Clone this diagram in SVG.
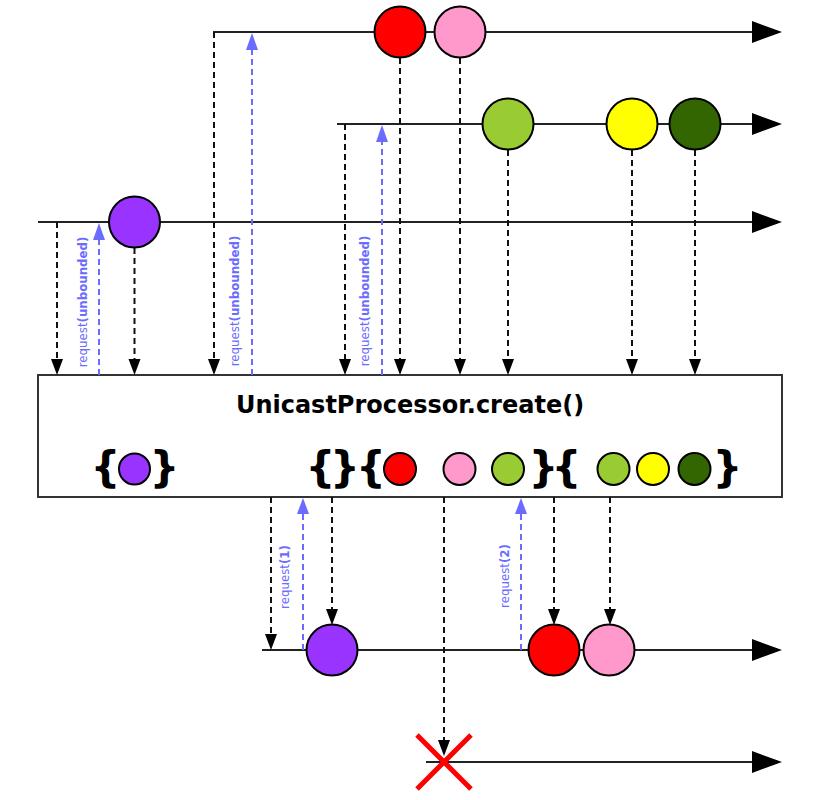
<svg xmlns="http://www.w3.org/2000/svg" width="815" height="800" viewBox="0 0 815 800">
<style>
.tl{stroke:#222;stroke-width:2;fill:none}
.ah{fill:#000}
.ab{fill:#6b6bff}
.m{stroke:#000;stroke-width:2}
.dk{stroke:#111;stroke-width:2;stroke-dasharray:6,4;fill:none}
.bl{stroke:#6b6bff;stroke-width:2;stroke-dasharray:6,4;fill:none}
.lbl{font-family:"DejaVu Sans",Verdana,sans-serif;font-size:11.8px;fill:#6b6bff;text-anchor:middle}
.b{font-weight:bold}
.br{font-family:"DejaVu Sans","Liberation Sans",sans-serif;font-weight:bold;font-size:42px;fill:#000;text-anchor:middle}
.title{font-family:"DejaVu Sans","Liberation Sans",sans-serif;font-weight:bold;font-size:24px;fill:#000;text-anchor:middle}
</style>

<g id="timeline-1">
<line class="tl" x1="213" y1="32" x2="755" y2="32"/>
<polygon class="ah" points="752,21 782,32 752,43"/>
</g>
<g id="timeline-2">
<line class="tl" x1="337" y1="124" x2="755" y2="124"/>
<polygon class="ah" points="752,113 782,124 752,135"/>
</g>
<g id="timeline-3">
<line class="tl" x1="38" y1="222" x2="755" y2="222"/>
<polygon class="ah" points="752,211 782,222 752,233"/>
</g>
<g id="timeline-out">
<line class="tl" x1="262" y1="650" x2="755" y2="650"/>
<polygon class="ah" points="752,639 782,650 752,661"/>
</g>
<g id="timeline-final">
<line class="tl" x1="426" y1="762" x2="755" y2="762"/>
<polygon class="ah" points="752,751 782,762 752,773"/>
</g>

<g id="processor">
<rect x="38" y="375" width="744" height="122" fill="#fff" stroke="#333" stroke-width="2"/>
<text class="title" x="410" y="413">UnicastProcessor.create()</text>
<text class="br" x="105.5" y="482">{</text>
<circle cx="134.5" cy="469" r="15.5" fill="#9933ff" class="m"/>
<text class="br" x="164.5" y="482">}</text>
<text class="br" x="320.5 345 371" y="482">{}{</text>
<circle cx="400" cy="469" r="16" fill="#ff0000" class="m"/>
<circle cx="459.5" cy="469" r="16" fill="#ff99cc" class="m"/>
<circle cx="508" cy="469" r="16" fill="#99cc33" class="m"/>
<text class="br" x="543.5 566.5" y="482">}{</text>
<circle cx="613.5" cy="469" r="16" fill="#99cc33" class="m"/>
<circle cx="653" cy="469" r="16" fill="#ffff00" class="m"/>
<circle cx="694.5" cy="469" r="16" fill="#336600" class="m"/>
<text class="br" x="727.5" y="482">}</text>
</g>

<g id="connectors">
<line class="dk" x1="57" y1="222" x2="57" y2="362"/>
<polygon class="ah" points="51,359 63,359 57,375"/>
<line class="bl" x1="99" y1="375" x2="99" y2="238"/>
<polygon class="ab" points="93,240 105,240 99,223"/>
<line class="dk" x1="134.5" y1="248" x2="134.5" y2="362"/>
<polygon class="ah" points="128.5,359 140.5,359 134.5,375"/>
<line class="dk" x1="214" y1="32" x2="214" y2="362"/>
<polygon class="ah" points="208,359 220,359 214,375"/>
<line class="bl" x1="252" y1="375" x2="252" y2="48"/>
<polygon class="ab" points="246,50 258,50 252,33"/>
<line class="dk" x1="345" y1="124" x2="345" y2="362"/>
<polygon class="ah" points="339,359 351,359 345,375"/>
<line class="bl" x1="382" y1="375" x2="382" y2="140"/>
<polygon class="ab" points="376,142 388,142 382,125"/>
<line class="dk" x1="400" y1="58" x2="400" y2="362"/>
<polygon class="ah" points="394,359 406,359 400,375"/>
<line class="dk" x1="460" y1="58" x2="460" y2="362"/>
<polygon class="ah" points="454,359 466,359 460,375"/>
<line class="dk" x1="508" y1="150" x2="508" y2="362"/>
<polygon class="ah" points="502,359 514,359 508,375"/>
<line class="dk" x1="632" y1="150" x2="632" y2="362"/>
<polygon class="ah" points="626,359 638,359 632,375"/>
<line class="dk" x1="695" y1="150" x2="695" y2="362"/>
<polygon class="ah" points="689,359 701,359 695,375"/>
<line class="dk" x1="271" y1="497" x2="271" y2="637"/>
<polygon class="ah" points="265,634 277,634 271,650"/>
<line class="bl" x1="303" y1="650" x2="303" y2="512"/>
<polygon class="ab" points="297,514 309,514 303,498"/>
<line class="dk" x1="332" y1="497" x2="332" y2="612"/>
<polygon class="ah" points="326,609 338,609 332,625"/>
<line class="bl" x1="521" y1="650" x2="521" y2="512"/>
<polygon class="ab" points="515,514 527,514 521,498"/>
<line class="dk" x1="554" y1="497" x2="554" y2="612"/>
<polygon class="ah" points="548,609 560,609 554,625"/>
<line class="dk" x1="610" y1="497" x2="610" y2="612"/>
<polygon class="ah" points="604,609 616,609 610,625"/>
<line class="dk" x1="444" y1="497" x2="444" y2="742"/>
</g>

<g id="labels">
<text class="lbl" transform="translate(87,302) rotate(-90)">request<tspan class="b">(unbounded)</tspan></text>
<text class="lbl" transform="translate(239,301) rotate(-90)">request<tspan class="b">(unbounded)</tspan></text>
<text class="lbl" transform="translate(369,301) rotate(-90)">request<tspan class="b">(unbounded)</tspan></text>
<text class="lbl" transform="translate(289,577) rotate(-90)">request<tspan class="b">(1)</tspan></text>
<text class="lbl" transform="translate(509,576) rotate(-90)">request<tspan class="b">(2)</tspan></text>
</g>

<g id="marbles">
<circle id="m-red" cx="400" cy="32" r="25.5" fill="#ff0000" class="m"/>
<circle id="m-pink" cx="460" cy="32" r="25.5" fill="#ff99cc" class="m"/>
<circle id="m-green" cx="508" cy="124" r="25.5" fill="#99cc33" class="m"/>
<circle id="m-yellow" cx="632" cy="124" r="25.5" fill="#ffff00" class="m"/>
<circle id="m-darkgreen" cx="695" cy="124" r="25.5" fill="#336600" class="m"/>
<circle id="m-purple" cx="134.5" cy="222" r="25.5" fill="#9933ff" class="m"/>
<circle id="o-purple" cx="332" cy="650" r="25.5" fill="#9933ff" class="m"/>
<circle id="o-red" cx="554" cy="650" r="25.5" fill="#ff0000" class="m"/>
<circle id="o-pink" cx="609" cy="650" r="25.5" fill="#ff99cc" class="m"/>
</g>

<g id="cancel">
<path d="M417,735 L471,789 M471,735 L417,789" stroke="#ff0000" stroke-width="5" fill="none"/>
<polygon class="ah" points="438,740 450,740 444,756"/>
</g>
</svg>
